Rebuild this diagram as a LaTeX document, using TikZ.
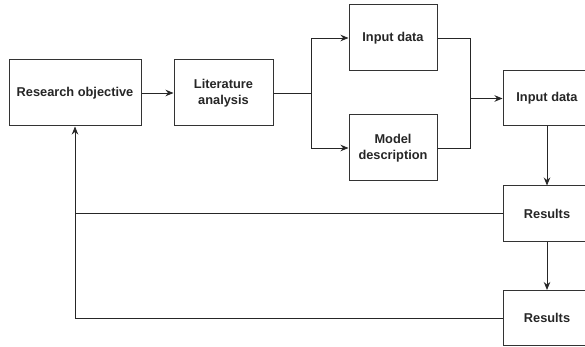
\documentclass[tikz,border=0pt]{standalone}
\usepackage{fontspec}
\setmainfont{Liberation Sans}
\usetikzlibrary{positioning,arrows.meta}

\tikzset{
    stagebox/.style={draw=black!80, line width=1pt, fill=white, align=center,
        font=\fontsize{12.8}{15.5}\selectfont\bfseries, text=black!85,
        inner sep=0pt, minimum width=88pt, minimum height=66pt},
    flow/.style={draw=black!85, line width=0.9pt},
    flowarrow/.style={flow, -{Stealth[length=8pt,width=6.5pt]}}
}

\begin{document}
\begin{tikzpicture}[x=1pt, y=-1pt]
    \clip (0,0) rectangle (585,347);
    \fill[white] (0,0) rectangle (585,347);

    % first row
    \node[stagebox, minimum width=132pt] (objective) at (75,93) {Research objective};
    \node[stagebox, minimum width=99pt]  (literature) at (223.5,93) {Literature\\analysis};

    % two branches
    \node[stagebox] (inputA) at (393,38)  {Input data};
    \node[stagebox] (model)  at (393,148) {Model\\description};

    % right column
    \node[stagebox, minimum height=55pt] (inputB)   at (547,98.5) {Input data};
    \node[stagebox, minimum height=55pt] (results1) at (547,213.5) {Results};
    \node[stagebox, minimum height=55pt] (results2) at (547,318) {Results};

    \coordinate (split) at (311,93);
    \coordinate (merge) at (470,98.5);

    \draw[flowarrow] (objective) -- (literature);
    \draw[flow] (literature.east) -- (split);
    \draw[flowarrow] (split) |- (inputA.west);
    \draw[flowarrow] (split) |- (model.west);

    \draw[flow] (inputA.east) -| (merge);
    \draw[flow] (model.east) -| (merge);
    \draw[flowarrow] (merge) -- (inputB.west);

    \draw[flowarrow] (inputB) -- (results1);
    \draw[flowarrow] (results1) -- (results2);

    % feedback
    \draw[flow] (results1.west) -- (objective.south |- results1.west);
    \draw[flowarrow] (results2.west) -| (objective.south);
\end{tikzpicture}
\end{document}
